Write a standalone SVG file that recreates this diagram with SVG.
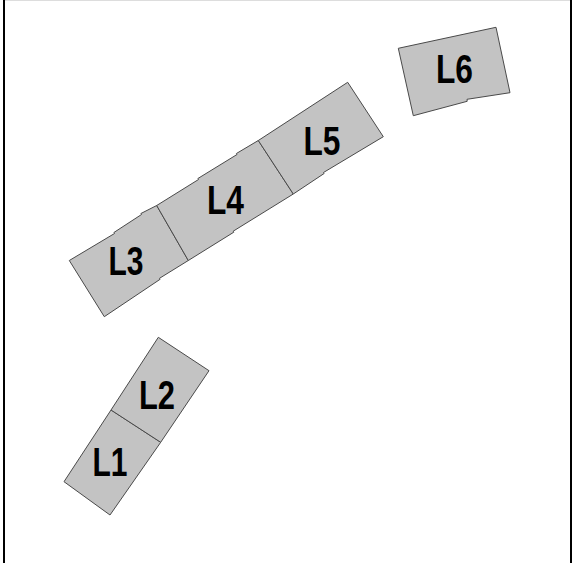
<svg xmlns="http://www.w3.org/2000/svg" width="579" height="563" viewBox="0 0 579 563">
<style>
.room{fill:#c3c3c3;stroke:#4a4a4a;stroke-width:1;stroke-linejoin:miter}
.lbl{font-family:"Liberation Sans Narrow","Liberation Sans",Arial,sans-serif;font-weight:bold;font-size:40px;fill:#000;text-anchor:middle}
</style>
<rect x="0" y="0" width="579" height="563" fill="#ffffff"/>
<g id="frame">
<line x1="4" y1="0.5" x2="571" y2="0.5" stroke="#dddddd" stroke-width="1"/>
<line x1="4" y1="0" x2="4" y2="563" stroke="#000" stroke-width="2"/>
<line x1="571" y1="0" x2="571" y2="563" stroke="#000" stroke-width="2"/>
</g>
<g id="L1">
<polygon class="room" points="111,410 160.7,442.3 110,515 64,481.7"/>
<text class="lbl" x="110" y="476" textLength="35" lengthAdjust="spacingAndGlyphs">L1</text>
</g>
<g id="L2">
<polygon class="room" points="158.3,337.3 209,370.7 160.7,442.3 111,410"/>
<text class="lbl" x="157" y="409" textLength="36" lengthAdjust="spacingAndGlyphs">L2</text>
</g>
<g id="L3">
<polygon class="room" points="69.3,260.5 114.5,233.5 113.9,232.5 141.5,214.5 140.9,213.5 156.7,205.5 188.3,260.5 159.5,278.3 160.1,279.3 104.3,316.7"/>
<text class="lbl" x="126" y="275" textLength="35" lengthAdjust="spacingAndGlyphs">L3</text>
</g>
<g id="L4">
<polygon class="room" points="156.7,205.5 198.5,179.5 197.9,178.5 237,154.5 236.4,153.5 258.3,140.5 293.3,194 233.2,231.2 233.8,232.2 188.3,260.5"/>
<text class="lbl" x="225.5" y="214" textLength="37" lengthAdjust="spacingAndGlyphs">L4</text>
</g>
<g id="L5">
<polygon class="room" points="258.3,140.5 347.7,82.3 383.3,136.7 323.5,172.5 324.1,173.5 293.3,194"/>
<text class="lbl" x="322" y="155" textLength="37" lengthAdjust="spacingAndGlyphs">L5</text>
</g>
<g id="L6">
<polygon class="room" points="398.3,48.3 496,27.3 510,92.7 467,99.3 467.2,101.3 413.3,115.7"/>
<text class="lbl" x="454.5" y="82.5" textLength="37" lengthAdjust="spacingAndGlyphs">L6</text>
</g>
</svg>
